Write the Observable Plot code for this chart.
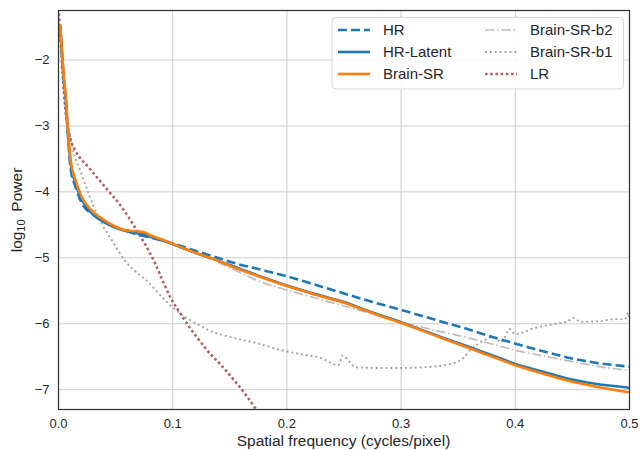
<!DOCTYPE html>
<html><head><meta charset="utf-8">
<script src="https://cdn.jsdelivr.net/npm/d3@7"></script>
<script src="https://cdn.jsdelivr.net/npm/@observablehq/plot@0.6"></script>
<style>
html,body{margin:0;padding:0;background:#fff;}
#chart{width:640px;height:450px;overflow:hidden;}
</style></head><body><div id="chart"></div>
<script>
const seriesNames = ["HR","HR-Latent","Brain-SR","Brain-SR-b2","Brain-SR-b1","LR"];

const hrX = [0.0015,0.003,0.0046,0.0067,0.0085,0.0105,0.015,0.0207,0.032,0.044,0.0585,0.07,0.082,0.0935,0.107,0.121,0.136,0.154,0.175,0.202,0.225,0.25,0.275,0.302,0.33,0.358,0.38,0.402,0.425,0.4455,0.47,0.5];
const hrY = [-1.48,-1.9,-2.3,-2.7,-3.2,-3.63,-3.93,-4.18,-4.36,-4.49,-4.59,-4.65,-4.7,-4.75,-4.82,-4.9,-4.98,-5.08,-5.17,-5.29,-5.41,-5.54,-5.67,-5.8,-5.94,-6.08,-6.2,-6.31,-6.42,-6.51,-6.59,-6.65];

const srX = [0.0015,0.003,0.0046,0.0067,0.0076,0.0085,0.0105,0.015,0.0207,0.0294,0.041,0.0557,0.063,0.07,0.076,0.082,0.0935,0.107,0.121,0.136,0.15,0.175,0.202,0.225,0.25,0.275,0.302,0.33,0.358,0.38,0.402,0.425,0.4455,0.47,0.5];
const latentY = [-1.47,-1.88,-2.27,-2.66,-2.94,-3.16,-3.55,-3.88,-4.13,-4.33,-4.47,-4.58,-4.61,-4.63,-4.65,-4.69,-4.75,-4.84,-4.93,-5.02,-5.11,-5.27,-5.43,-5.55,-5.67,-5.83,-5.99,-6.17,-6.34,-6.48,-6.62,-6.73,-6.83,-6.91,-6.97];
const brainSrY = [-1.46,-1.86,-2.24,-2.62,-2.9,-3.12,-3.5,-3.83,-4.09,-4.29,-4.44,-4.57,-4.59,-4.6,-4.62,-4.67,-4.74,-4.84,-4.93,-5.02,-5.12,-5.28,-5.44,-5.56,-5.68,-5.84,-6.0,-6.18,-6.36,-6.5,-6.64,-6.76,-6.86,-6.95,-7.04];

const b2X = [0.0015,0.003,0.0046,0.0067,0.0085,0.0105,0.015,0.0207,0.03,0.042,0.055,0.07,0.082,0.0935,0.107,0.121,0.136,0.15,0.175,0.202,0.225,0.25,0.275,0.302,0.33,0.358,0.38,0.402,0.425,0.4455,0.47,0.5];
const b2Y = [-1.47,-1.88,-2.28,-2.66,-3.1,-3.5,-3.82,-4.08,-4.3,-4.45,-4.55,-4.63,-4.7,-4.76,-4.84,-4.93,-5.04,-5.15,-5.35,-5.5,-5.61,-5.73,-5.85,-5.98,-6.1,-6.21,-6.31,-6.41,-6.49,-6.56,-6.64,-6.71];

const b1X = [0.0,0.002,0.004,0.006,0.008,0.0105,0.014,0.018,0.0265,0.035,0.047,0.0585,0.067,0.0775,0.092,0.107,0.121,0.136,0.15,0.175,0.195,0.212,0.23,0.245,0.249,0.253,0.26,0.28,0.3,0.32,0.343,0.355,0.36,0.372,0.38,0.388,0.395,0.4,0.416,0.435,0.445,0.451,0.457,0.475,0.486,0.496,0.499,0.5];
const b1Y = [-1.22,-1.75,-2.3,-2.75,-3.0,-3.18,-3.45,-3.63,-4.03,-4.39,-4.74,-5.05,-5.2,-5.35,-5.62,-5.85,-6.0,-6.13,-6.2,-6.3,-6.4,-6.46,-6.52,-6.63,-6.48,-6.54,-6.66,-6.67,-6.67,-6.66,-6.61,-6.51,-6.41,-6.26,-6.2,-6.28,-6.08,-6.16,-6.07,-6.0,-5.97,-5.91,-5.97,-5.96,-5.93,-5.93,-5.83,-5.95];

const lrX = [0.0,0.002,0.004,0.006,0.008,0.0105,0.015,0.0265,0.041,0.0557,0.067,0.076,0.085,0.092,0.098,0.107,0.115,0.121,0.13,0.142,0.154,0.165,0.175];
const lrY = [-1.22,-1.75,-2.3,-2.75,-3.0,-3.2,-3.38,-3.63,-3.93,-4.24,-4.54,-4.8,-5.1,-5.38,-5.6,-5.85,-6.06,-6.2,-6.4,-6.62,-6.86,-7.1,-7.35];

const xTicks = [0, 0.1, 0.2, 0.3, 0.4, 0.5];
const yTicks = [-7, -6, -5, -4, -3, -2];
const xLabel = "Spatial frequency (cycles/pixel)";

const styles = {
  "HR":          {stroke: "#1f77b4", width: 2.6, dash: "9,4", cap: "butt"},
  "HR-Latent":   {stroke: "#1f77b4", width: 2.6, dash: null, cap: "butt"},
  "Brain-SR":    {stroke: "#ff7f0e", width: 2.6, dash: null, cap: "butt"},
  "Brain-SR-b2": {stroke: "#bdbdbd", width: 1.7, dash: "9.6,2.6,1.6,2.6", cap: "butt"},
  "Brain-SR-b1": {stroke: "#a0a0a0", width: 1.9, dash: "1.9,3", cap: "butt"},
  "LR":          {stroke: "#b45e5e", width: 2.6, dash: "2.6,2.6", cap: "butt"}
};

function rows(name, xs, ys) { return xs.map((x, i) => ({series: name, x, y: ys[i]})); }
const data = {
  "HR": rows("HR", hrX, hrY),
  "HR-Latent": rows("HR-Latent", srX, latentY),
  "Brain-SR": rows("Brain-SR", srX, brainSrY),
  "Brain-SR-b2": rows("Brain-SR-b2", b2X, b2Y),
  "Brain-SR-b1": rows("Brain-SR-b1", b1X, b1Y),
  "LR": rows("LR", lrX, lrY)
};
const drawOrder = ["Brain-SR-b2", "Brain-SR-b1", "LR", "HR", "HR-Latent", "Brain-SR"];

const font = "'Liberation Sans', Arial, sans-serif";
const plot = Plot.plot({
  width: 640, height: 450,
  marginLeft: 58, marginRight: 11, marginTop: 10, marginBottom: 41,
  style: {fontFamily: font, fontSize: "13px", color: "#262626", background: "#fff", overflow: "visible"},
  x: {domain: [0, 0.5]},
  y: {domain: [-7.30, -1.25]},
  marks: [
    Plot.gridX(xTicks, {stroke: "#cccccc", strokeOpacity: 1, strokeWidth: 1}),
    Plot.gridY(yTicks, {stroke: "#cccccc", strokeOpacity: 1, strokeWidth: 1}),
    ...drawOrder.map(n => Plot.line(data[n], {
      x: "x", y: "y", stroke: styles[n].stroke, strokeWidth: styles[n].width,
      strokeDasharray: styles[n].dash, strokeLinecap: styles[n].cap, curve: "monotone-x", clip: true
    })),
    Plot.frame({stroke: "#333333", strokeWidth: 1.25}),
    Plot.axisX(xTicks, {tickSize: 0, tickPadding: 9, tickFormat: d3.format(".1f"), label: null, fill: "#262626"}),
    Plot.axisY(yTicks, {tickSize: 0, tickPadding: 9, tickFormat: d => (d < 0 ? "\u2212" : "") + Math.abs(d), label: null, fill: "#262626"})
  ]
});
document.getElementById("chart").appendChild(plot);

const svg = d3.select(plot);
// axis titles
svg.append("text").attr("x", (58 + 629) / 2).attr("y", 446).attr("text-anchor", "middle")
  .attr("font-family", font).attr("font-size", 15.5).attr("fill", "#262626").text(xLabel);
const yl = svg.append("text").attr("transform", "translate(22,210) rotate(-90)").attr("text-anchor", "middle")
  .attr("font-family", font).attr("font-size", 15.5).attr("fill", "#262626");
yl.append("tspan").text("log");
yl.append("tspan").attr("font-size", 11).attr("dy", 3).text("10");
yl.append("tspan").attr("dy", -3).text("\u2002Power");

// legend
const lg = svg.append("g");
lg.append("rect").attr("x", 332).attr("y", 17.5).attr("width", 291.5).attr("height", 71.5).attr("rx", 4)
  .attr("fill", "#fff").attr("fill-opacity", 0.85).attr("stroke", "#d6d6d6").attr("stroke-width", 1);
seriesNames.forEach((n, i) => {
  const col = i < 3 ? 0 : 1, row = i % 3;
  const x0 = col === 0 ? 338 : 485, yy = 30 + row * 22;
  const s = styles[n];
  lg.append("line").attr("x1", x0).attr("x2", x0 + 32).attr("y1", yy).attr("y2", yy)
    .attr("stroke", s.stroke).attr("stroke-width", s.width).attr("stroke-dasharray", s.dash);
  lg.append("text").attr("x", x0 + 45).attr("y", yy).attr("dy", "0.35em").attr("text-anchor", "start")
    .attr("font-family", font).attr("font-size", 15).attr("fill", "#262626").text(n);
});
</script></body></html>
